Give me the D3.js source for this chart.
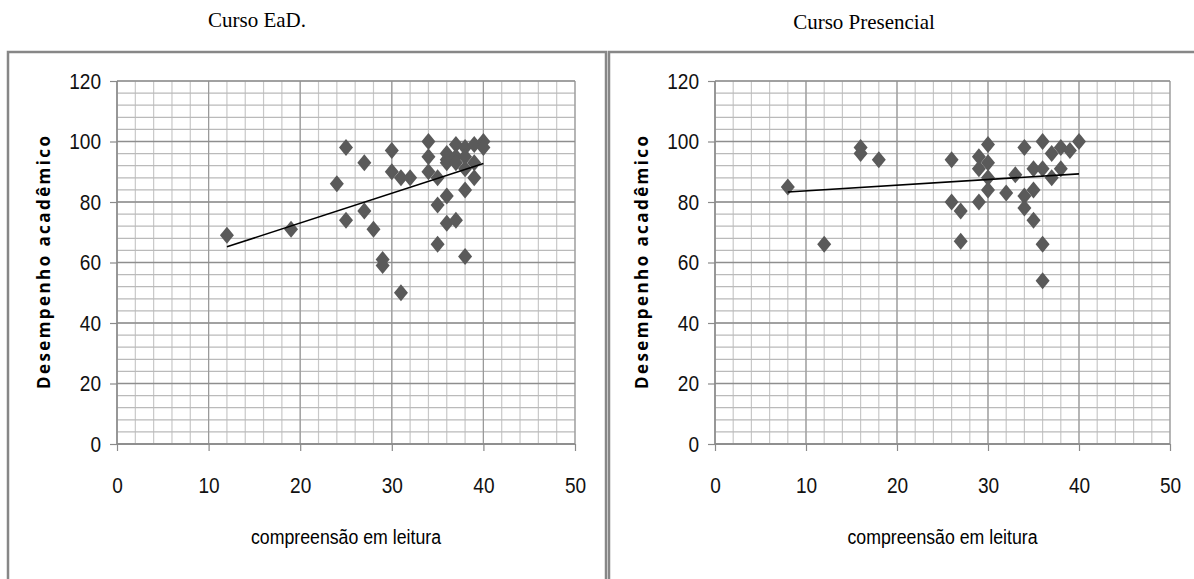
<!DOCTYPE html>
<html>
<head>
<meta charset="utf-8">
<script src="https://cdn.jsdelivr.net/npm/d3@7"></script>
<style>
  html, body { margin: 0; padding: 0; background: #fff; }
  svg { display: block; }
</style>
</head>
<body>
<svg id="chart" width="1194" height="579"></svg>
<script>
// ---------- DATA ----------
const chartTitles = ["Curso EaD.", "Curso Presencial"];
const xAxisTitle = "compreensão em leitura";
const yAxisTitle = "Desempenho acadêmico";
const xTickValues = [0, 10, 20, 30, 40, 50];
const yTickValues = [0, 20, 40, 60, 80, 100, 120];

// Curso EaD.
const eadX = [12, 19, 24, 25, 25, 27, 27, 28, 29, 29, 30, 30, 31, 31, 32,
  34, 34, 34, 35, 35, 35, 36, 36, 36, 36, 36, 37, 37, 37, 37,
  38, 38, 38, 38, 38, 39, 39, 39, 40, 40];
const eadY = [69, 71, 86, 98, 74, 93, 77, 71, 61, 59, 97, 90, 88, 50, 88,
  100, 95, 90, 88, 79, 66, 96, 94, 93, 82, 73, 99, 95, 93, 74,
  98, 95, 91, 84, 62, 99, 93, 88, 100, 98];
const eadTrendX = [12, 40];
const eadTrendY = [65.2, 92.7];

// Curso Presencial
const presX = [8, 12, 16, 16, 18, 26, 26, 27, 27, 29, 29, 29, 30, 30, 30, 30,
  32, 33, 34, 34, 34, 35, 35, 35, 36, 36, 36, 36, 37, 37, 38, 38, 39, 40];
const presY = [85, 66, 98, 96, 94, 94, 80, 77, 67, 95, 91, 80, 99, 93, 88, 84,
  83, 89, 98, 82, 78, 91, 84, 74, 100, 91, 66, 54, 96, 88, 98, 91, 97, 100];
const presTrendX = [8, 40];
const presTrendY = [83.3, 89.3];

// ---------- LAYOUT ----------
const svg = d3.select("#chart");
const panels = [
  { title: chartTitles[0], tx: 257, ty: 27, box: [8, 52, 598, 540],
    x0: 117, x1: 575, y0: 444, y1: 81, xs: eadX, ys: eadY, trx: eadTrendX, try_: eadTrendY },
  { title: chartTitles[1], tx: 864, ty: 29, box: [609, 52, 600, 540],
    x0: 715, x1: 1170, y0: 444, y1: 81, xs: presX, ys: presY, trx: presTrendX, try_: presTrendY }
];

const tickFont = "'Liberation Sans Narrow', 'Liberation Sans', sans-serif";

panels.forEach(p => {
  svg.append("text")
    .attr("x", p.tx).attr("y", p.ty)
    .attr("text-anchor", "middle")
    .style("font-family", "'Liberation Serif', 'Times New Roman', serif")
    .style("font-size", "21px")
    .style("fill", "#000")
    .text(p.title);

  svg.append("rect")
    .attr("x", p.box[0]).attr("y", p.box[1])
    .attr("width", p.box[2]).attr("height", p.box[3])
    .attr("fill", "none")
    .attr("stroke", "#878787")
    .attr("stroke-width", 2.5);

  const x = d3.scaleLinear().domain([0, 50]).range([p.x0, p.x1]);
  const y = d3.scaleLinear().domain([0, 120]).range([p.y0, p.y1]);
  const g = svg.append("g");

  // minor gridlines
  g.selectAll(".vmin").data(d3.range(0, 51, 2)).enter().append("line")
    .attr("x1", d => x(d)).attr("x2", d => x(d))
    .attr("y1", y(0)).attr("y2", y(120))
    .attr("stroke", "#c8c8c8").attr("stroke-width", 1.2);
  g.selectAll(".hmin").data(d3.range(0, 121, 4)).enter().append("line")
    .attr("x1", x(0)).attr("x2", x(50))
    .attr("y1", d => y(d)).attr("y2", d => y(d))
    .attr("stroke", "#bababa").attr("stroke-width", 1.2);
  // major gridlines
  g.selectAll(".vmaj").data(xTickValues).enter().append("line")
    .attr("x1", d => x(d)).attr("x2", d => x(d))
    .attr("y1", y(0)).attr("y2", y(120))
    .attr("stroke", "#9a9a9a").attr("stroke-width", 1.2);
  g.selectAll(".hmaj").data(yTickValues).enter().append("line")
    .attr("x1", x(0)).attr("x2", x(50))
    .attr("y1", d => y(d)).attr("y2", d => y(d))
    .attr("stroke", "#8e8e8e").attr("stroke-width", 1.4);

  // axes
  const xAxis = d3.axisBottom(x).tickValues(xTickValues).tickSize(7).tickPadding(26).tickFormat(d3.format("d"));
  const yAxis = d3.axisLeft(y).tickValues(yTickValues).tickSize(7).tickPadding(9).tickFormat(d3.format("d"));
  const gx = g.append("g").attr("transform", `translate(0,${y(0)})`).call(xAxis);
  const gy = g.append("g").attr("transform", `translate(${x(0)},0)`).call(yAxis);
  [gx, gy].forEach(a => {
    a.select(".domain").remove();
    a.selectAll(".tick line").attr("stroke", "#8a8a8a").attr("stroke-width", 1.2);
    a.selectAll(".tick text")
      .style("font-family", tickFont)
      .style("font-size", "22px")
      .style("fill", "#111")
      .attr("textLength", d => String(d).length * 10.6)
      .attr("lengthAdjust", "spacingAndGlyphs");
  });
  g.append("line").attr("x1", x(0)).attr("x2", x(50)).attr("y1", y(0)).attr("y2", y(0))
    .attr("stroke", "#8a8a8a").attr("stroke-width", 1.4);
  g.append("line").attr("x1", x(0)).attr("x2", x(0)).attr("y1", y(0)).attr("y2", y(120))
    .attr("stroke", "#8a8a8a").attr("stroke-width", 1.4);

  // axis titles
  g.append("text")
    .attr("x", (p.x0 + p.x1) / 2).attr("y", 544)
    .attr("text-anchor", "middle")
    .attr("textLength", 190)
    .attr("lengthAdjust", "spacingAndGlyphs")
    .style("font-family", tickFont)
    .style("font-size", "20px")
    .style("fill", "#000")
    .text(xAxisTitle);
  g.append("text")
    .attr("transform", `translate(${p.x0 - 67},${(p.y0 + p.y1) / 2}) rotate(-90)`)
    .attr("text-anchor", "middle")
    .attr("textLength", 253)
    .attr("lengthAdjust", "spacing")
    .style("font-family", "'Open Sans', 'Liberation Sans', sans-serif")
    .style("font-weight", "bold")
    .style("font-size", "17px")
    .style("fill", "#000")
    .text(yAxisTitle);

  // points
  const pts = p.xs.map((v, i) => [v, p.ys[i]]);
  const diamond = "M0,-8.5L7,0L0,8.5L-7,0Z";
  g.selectAll(".pt").data(pts).enter().append("path")
    .attr("d", diamond)
    .attr("transform", d => `translate(${x(d[0])},${y(d[1])})`)
    .attr("fill", "#5a5a5a");

  // trend line
  const tr = p.trx.map((v, i) => [v, p.try_[i]]);
  g.append("path")
    .datum(tr)
    .attr("d", d3.line().x(d => x(d[0])).y(d => y(d[1])))
    .attr("fill", "none")
    .attr("stroke", "#000")
    .attr("stroke-width", 1.6);
});
</script>
</body>
</html>
